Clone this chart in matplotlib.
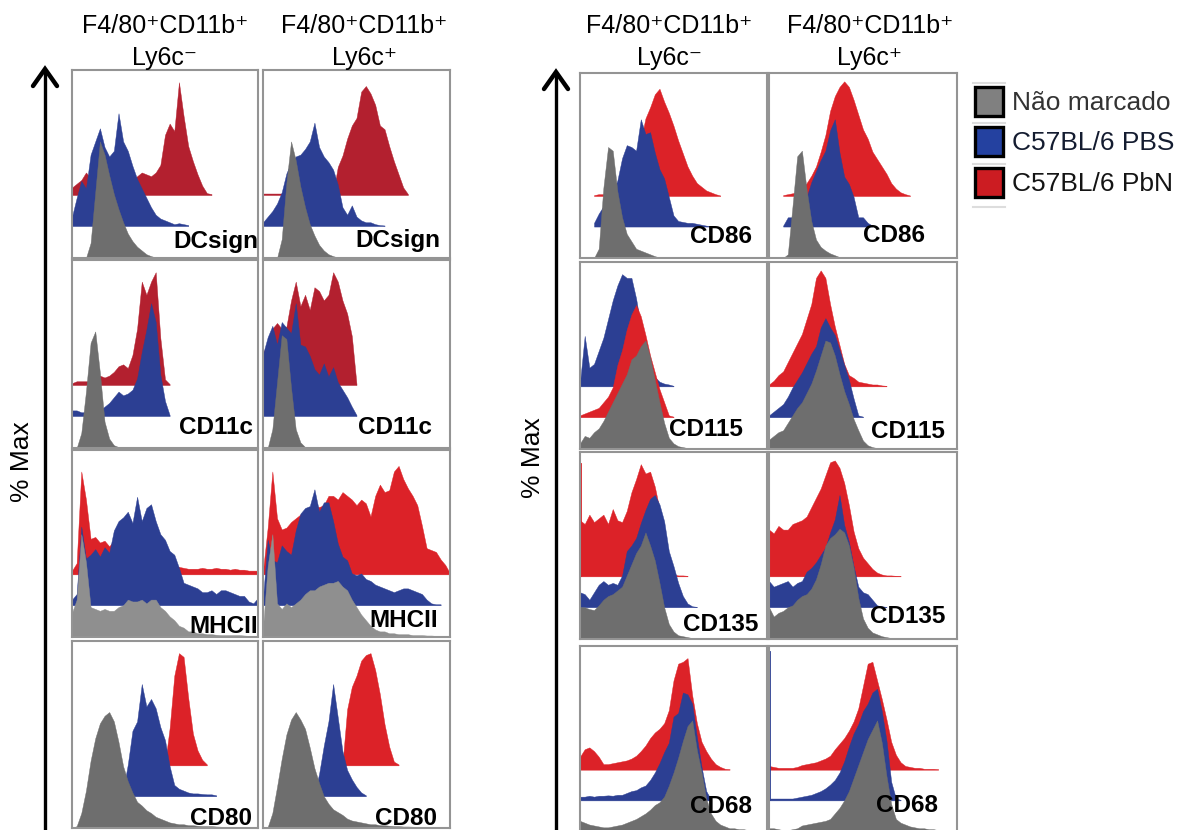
import numpy as np
import matplotlib
matplotlib.use("Agg")
import matplotlib.pyplot as plt
from matplotlib.patches import Rectangle

W, H = 1183, 830
FONT = ["Liberation Sans", "DejaVu Sans"]

# each histogram: (x of first value in % of panel width, heights in % of panel height)
# values are read every 2.5 % along x
dcsign_neg_gray = (7.5, [0, 8, 35, 62, 55, 44, 34, 26, 19, 13, 9, 6, 4, 2, 1, 0.3])
dcsign_neg_blue = (0, [5, 15, 24, 20, 38, 45, 52, 42, 37, 40, 60, 45, 40, 32, 25, 20, 15, 10, 6, 4, 3, 2, 1, 1.5, 1, 0.5])
dcsign_neg_red = (0, [4, 6, 8, 12, 9, 4, 3, 3, 3, 3, 4, 5, 6, 8, 10, 12, 11, 10, 12, 16, 32, 38, 34, 60, 42, 26, 18, 11, 5, 1, 0.5])
dcsign_pos_gray = (7.5, [0, 10, 40, 62, 52, 38, 27, 18, 12, 7, 4, 2, 1, 0.3])
dcsign_pos_blue = (0, [2, 5, 8, 12, 18, 28, 34, 37, 38, 41, 45, 55, 42, 37, 34, 30, 22, 10, 6, 11, 5, 3, 2, 2, 1, 0.5, 0.3])
dcsign_pos_red = (0, [0.8, 0.8, 0.8, 0.8, 0.8, 0.8, 0.8, 0.8, 0.8, 0.8, 0.8, 0.8, 0.8, 0.8, 0.8, 0.8,
                      15, 21, 30, 37, 41, 55, 58, 54, 48, 37, 35, 26, 18, 11, 4, 0.5])

cd11c_neg_gray = (2.5, [0, 8, 30, 56, 62, 40, 14, 5, 1.5, 0.5, 0])
cd11c_neg_blue = (0, [3, 3, 2, 2, 2, 2, 3, 5, 7, 10, 13, 11, 12, 14, 20, 34, 46, 60, 50, 22, 8, 0.5])
cd11c_neg_red = (0, [1, 2, 2, 2, 2, 3, 5, 4, 5, 7, 10, 11, 9, 16, 30, 55, 48, 55, 60, 25, 3, 0.5])
cd11c_pos_gray = (2.5, [0, 10, 35, 60, 58, 32, 10, 3, 0.5, 0])
cd11c_pos_blue = (0, [33, 42, 48, 38, 50, 47, 44, 60, 38, 37, 32, 25, 22, 28, 21, 26, 18, 14, 10, 5, 0.5])
cd11c_pos_red = (0, [17, 22, 30, 33, 30, 31, 45, 55, 42, 48, 40, 52, 50, 45, 48, 60, 55, 45, 38, 26, 0.5])

mhcii_neg_gray = (0, [13, 20, 55, 40, 16, 15, 14, 15, 14, 14, 16, 17, 20, 19, 19, 20, 18, 20, 20, 16, 14,
                      11, 9, 6, 5, 3, 3, 2, 2, 1.5, 1.5, 1.2, 1, 1, 1, 1, 1, 0.8, 0.6, 0.5, 0.5])
mhcii_neg_blue = (0, [3, 6, 42, 25, 27, 30, 26, 31, 28, 40, 45, 47, 50, 44, 58, 45, 52, 54, 45, 38, 35,
                      29, 27, 20, 12, 11, 10, 9, 7, 7, 8, 6, 8, 8, 7, 6, 5, 5, 2, 1, 4])
mhcii_neg_red = (0, [2, 6, 55, 40, 19, 20, 17, 18, 15, 18, 20, 22, 24, 25, 25, 22, 20, 18, 15, 12, 8,
                     6, 5, 4, 3.5, 3, 3, 3, 3.5, 3, 3, 3.5, 3, 3, 2.5, 3, 2.5, 2.5, 2, 2, 2])
mhcii_pos_gray = (0, [5, 38, 55, 18, 15, 18, 16, 18, 20, 23, 25, 25, 27, 28, 29, 29, 30, 27, 25, 20, 16,
                      12, 9, 6, 4, 3, 3, 2, 2, 1.5, 1.5, 1.5, 1, 1, 1, 0.8, 0.8, 0.6, 0.5, 0.5, 0.5])
mhcii_pos_blue = (0, [4, 35, 24, 23, 32, 29, 27, 40, 49, 52, 53, 62, 50, 55, 55, 45, 33, 26, 24, 17,
                      16, 17, 14, 13, 11, 10, 9, 8, 7, 8, 9, 9, 8, 7, 6, 3, 1, 0.5, 0.5])
mhcii_pos_red = (0, [2, 25, 55, 30, 24, 25, 28, 30, 32, 34, 36, 37, 36, 37, 42, 42, 40, 44, 42, 40, 37,
                     40, 38, 31, 42, 48, 44, 45, 55, 58, 51, 46, 42, 37, 26, 14, 13, 12, 8, 5, 0.5])

cd80_neg_gray = (0, [0, 1, 8, 20, 36, 48, 56, 60, 62, 57, 46, 33, 25, 19, 14, 12, 9.5, 8, 6, 5, 4,
                     3, 2.5, 2, 2, 1.5, 1.5, 1.2, 1, 1, 1, 0.8, 0.7, 0.6, 0.5, 0.5, 0.4, 0.4, 0.3, 0.3, 0.3])
cd80_neg_blue = (20, [0.5, 1, 2, 3, 17, 35, 40, 60, 48, 52, 47, 37, 30, 16, 6, 4, 3, 2, 1.5, 1.5, 1.2, 1, 1, 0.5])
cd80_neg_red = (50, [0.5, 20, 48, 60, 58, 36, 17, 8, 3, 0.5])
cd80_pos_gray = (0, [0, 0.5, 8, 22, 37, 50, 58, 62, 58, 53, 43, 32, 24, 17, 13, 10, 8.5, 7, 5, 4, 3.5,
                     3, 2.5, 2, 2, 1.5, 1.5, 1.2, 1, 1, 0.8, 0.8, 0.7, 0.6, 0.5, 0.5, 0.4, 0.4, 0.3, 0.3, 0.3])
cd80_pos_blue = (25, [0.5, 1, 12, 27, 40, 60, 42, 24, 14, 9, 5, 2, 0.5])
cd80_pos_red = (42.5, [0.5, 30, 42, 48, 56, 59, 60, 51, 38, 22, 10, 2, 0.5])

cd86_neg_gray = (7.5, [0, 5, 38, 60, 58, 36, 22, 13, 9, 5, 4, 3, 2, 1, 0.3])
cd86_neg_blue = (7.5, [2, 7, 11, 14, 18, 25, 37, 44, 43, 41, 58, 50, 51, 40, 31, 26, 16, 6, 3, 2.5, 2, 2, 1.5, 1, 0.5, 0.3])
cd86_neg_red = (7.5, [0.5, 1, 1, 1.5, 1.5, 2, 3, 4, 6, 9, 30, 42, 48, 55, 58, 51, 45, 38, 30, 23, 16, 11, 7, 5, 3, 2, 1, 0.3])
cd86_pos_gray = (7.5, [0, 2, 28, 55, 58, 37, 20, 10, 6, 4, 2.5, 1.5, 0.5, 0.2])
cd86_pos_blue = (7.5, [0.5, 5, 5, 6, 10, 16, 24, 30, 36, 41, 52, 58, 40, 27, 23, 16, 5, 5, 2, 0.5])
cd86_pos_red = (7.5, [0.5, 1, 1.5, 2, 4, 7, 11, 16, 24, 33, 46, 54, 59, 62, 59, 52, 44, 36, 31, 24, 20, 16, 12, 7, 4, 2, 1, 0.3])

cd115_neg_gray = (0, [3, 7, 6, 9, 11, 15, 20, 25, 30, 35, 40, 48, 50, 55, 58, 49, 37, 25, 14, 6, 3, 1.5, 1, 0.5, 0.2])
cd115_neg_red = (0, [1, 2, 3, 4, 5, 8, 11, 16, 28, 36, 47, 55, 60, 54, 44, 33, 24, 15, 8, 1, 0.3])
cd115_neg_blue = (0, [2, 27, 10, 12, 19, 26, 36, 46, 54, 60, 58, 58, 47, 32, 22, 13, 5, 2.5, 1.5, 1, 0.3])
cd115_pos_gray = (0, [5, 7, 9, 10, 14, 18, 22, 25, 30, 35, 42, 50, 58, 57, 50, 40, 31, 24, 16, 10, 4.5, 2, 1, 0.5, 0.2])
cd115_pos_blue = (0, [1, 3, 5, 7, 11, 16, 20, 24, 29, 34, 38, 48, 53, 48, 44, 36, 28, 20, 10, 1, 0.3])
cd115_pos_red = (0, [1, 3, 6, 8, 13, 18, 23, 28, 36, 44, 58, 62, 58, 44, 32, 22, 12, 6, 4.5, 2.5, 2, 1.5, 1, 1, 0.5, 0.3])

cd135_neg_gray = (0, [17, 17, 16, 15.5, 18, 21, 23, 24, 26, 28, 34, 40, 46, 50, 57, 50, 42, 30, 17, 8, 4, 2, 1.5, 1, 0.5, 0.2])
cd135_neg_blue = (0, [8, 7, 4, 8, 12, 14, 12, 13, 12, 17, 30, 33, 37, 45, 52, 58, 60, 55, 46, 30, 22, 13, 6, 2, 0.5, 0.2])
cd135_neg_red = (0, [30, 28, 33, 29, 31, 33, 28, 36, 30, 29, 35, 45, 52, 60, 55, 56, 48, 36, 24, 8, 1, 0.5, 0.5, 0.3])
cd135_pos_gray = (0, [17, 12, 14, 15, 17, 18, 21, 23, 24, 27, 32, 40, 50, 54, 56, 59, 57, 50, 38, 22, 11, 6, 3.5, 2.5, 1.5, 1, 0.5, 0.2])
cd135_pos_blue = (0, [14, 11, 12, 13, 14, 11, 13, 14, 19, 21, 24, 28, 32, 40, 47, 60, 44, 35, 22, 11, 8, 7, 4, 1, 0.5, 0.2])
cd135_pos_red = (0, [25, 23, 27, 25, 25, 28, 29, 30, 32, 37, 42, 47, 54, 61, 62, 58, 50, 38, 24, 15, 10, 7, 4, 2, 1, 0.5, 0.5, 0.3, 0.2])

cd68_neg_gray = (0, [6, 5, 4, 3.5, 3, 2.5, 2.5, 3, 3.5, 4, 5, 6, 7, 8.5, 10, 12, 14.5, 16, 19, 25, 32,
                     40, 49, 57, 60, 44, 32, 18, 10, 6, 4, 3, 2, 2, 1.5, 1.5, 1, 1, 1, 0.8, 0.8])
cd68_neg_blue = (0, [2, 2, 2.5, 2, 2.5, 2.5, 2.7, 2.5, 3, 3, 4, 5, 5.5, 7, 8, 11, 15, 20, 26, 31, 45, 47, 58, 57, 52, 34, 18, 5, 0.5])
cd68_neg_red = (0, [7, 11, 12, 10, 7, 3, 3, 3.5, 4, 4.5, 5, 6, 7.5, 10, 13, 17, 20, 22, 25, 32, 48, 57, 58, 60, 40,
                    25, 15, 10, 6, 3, 1.5, 0.5, 0.3])
cd68_pos_gray = (0, [2, 2, 1.5, 1, 1, 1.5, 2, 3.5, 4, 4.5, 5, 5.5, 6, 7, 10, 13, 17, 22, 29, 36, 43,
                     50, 55, 60, 48, 30, 15, 7, 5, 4, 3, 2.5, 2, 2, 1.5, 1.5, 1, 1, 1, 0.8, 0.5])
cd68_pos_blue = (0, [1, 1, 1, 1, 1, 1, 1.5, 2, 2.5, 3, 4, 5, 6.5, 8.5, 11, 15, 21, 29, 36, 41, 48, 52, 58, 60, 48, 32, 10, 1, 0.3])
cd68_pos_red = (0, [2, 1.5, 1, 1, 1, 1, 1.5, 2.5, 3, 3.5, 4, 5, 6, 7.5, 11, 14, 17, 21, 26, 33, 45, 57, 58, 48, 38,
                    27, 15, 8, 4, 2, 1.5, 1, 1, 0.5, 0.5, 0.5, 0.3])

# single-channel spikes at the left edge (height in % of panel)
cd135_neg_red_spike = 60
cd68_pos_blue_spike = 80

headers = ["F4/80\u207aCD11b\u207a\nLy6c\u207b", "F4/80\u207aCD11b\u207a\nLy6c\u207a"]
legend_labels = ["N\u00e3o marcado", "C57BL/6 PBS", "C57BL/6 PbN"]

GRAY, GRAY_L = "#6e6e6e", "#8f8f8f"
BLUE = "#2c3f93"
RED_D, RED = "#b3202f", "#dc2228"

# panel boxes in pixels: columns (left, right), rows (top, bottom)
left_cols = [(72, 258), (263, 450)]
left_rows = [(70, 258), (260, 448), (450, 637), (641, 828)]
right_cols = [(580, 767), (769, 957)]
right_rows = [(73, 258), (262, 449), (452, 639), (646, 832)]

# (marker, col, row, side, [upper, middle, lower] series, colours, label inset right/up px, spike)
panels = [
    ("DCsign", 0, 0, "L", [dcsign_neg_red, dcsign_neg_blue, dcsign_neg_gray], [RED_D, BLUE, GRAY], (0, 10), None),
    ("DCsign", 1, 0, "L", [dcsign_pos_red, dcsign_pos_blue, dcsign_pos_gray], [RED_D, BLUE, GRAY], (10, 11), None),
    ("CD11c", 0, 1, "L", [cd11c_neg_red, cd11c_neg_blue, cd11c_neg_gray], [RED_D, BLUE, GRAY], (5, 14), None),
    ("CD11c", 1, 1, "L", [cd11c_pos_red, cd11c_pos_blue, cd11c_pos_gray], [RED_D, BLUE, GRAY], (18, 14), None),
    ("MHCII", 0, 2, "L", [mhcii_neg_red, mhcii_neg_blue, mhcii_neg_gray], [RED, BLUE, GRAY_L], (0, 4), None),
    ("MHCII", 1, 2, "L", [mhcii_pos_red, mhcii_pos_blue, mhcii_pos_gray], [RED, BLUE, GRAY_L], (12, 10), None),
    ("CD80", 0, 3, "L", [cd80_neg_red, cd80_neg_blue, cd80_neg_gray], [RED, BLUE, GRAY], (6, 3), None),
    ("CD80", 1, 3, "L", [cd80_pos_red, cd80_pos_blue, cd80_pos_gray], [RED, BLUE, GRAY], (13, 3), None),
    ("CD86", 0, 0, "R", [cd86_neg_red, cd86_neg_blue, cd86_neg_gray], [RED, BLUE, GRAY], (15, 15), None),
    ("CD86", 1, 0, "R", [cd86_pos_red, cd86_pos_blue, cd86_pos_gray], [RED, BLUE, GRAY], (32, 16), None),
    ("CD115", 0, 1, "R", [cd115_neg_blue, cd115_neg_red, cd115_neg_gray], [BLUE, RED, GRAY], (24, 13), None),
    ("CD115", 1, 1, "R", [cd115_pos_red, cd115_pos_blue, cd115_pos_gray], [RED, BLUE, GRAY], (12, 11), None),
    ("CD135", 0, 2, "R", [cd135_neg_red, cd135_neg_blue, cd135_neg_gray], [RED, BLUE, GRAY], (9, 8), (0, cd135_neg_red_spike)),
    ("CD135", 1, 2, "R", [cd135_pos_red, cd135_pos_blue, cd135_pos_gray], [RED, BLUE, GRAY], (12, 16), None),
    ("CD68", 0, 3, "R", [cd68_neg_red, cd68_neg_blue, cd68_neg_gray], [RED, BLUE, GRAY], (15, 19), None),
    ("CD68", 1, 3, "R", [cd68_pos_red, cd68_pos_blue, cd68_pos_gray], [RED, BLUE, GRAY], (19, 20), (1, cd68_pos_blue_spike)),
]

BASES = [33.5, 17, 0]

fig = plt.figure(figsize=(W / 100, H / 100), dpi=100)
fig.patch.set_facecolor("white")

for label, c, r, side, series, colors, (inset, up), spike in panels:
    cols, rows = (left_cols, left_rows) if side == "L" else (right_cols, right_rows)
    x0, x1 = cols[c]
    y0, y1 = rows[r]
    ax = fig.add_axes([x0 / W, 1 - y1 / H, (x1 - x0) / W, (y1 - y0) / H])
    for (start, vals), base, col in zip(series, BASES, colors):
        x = start + 2.5 * np.arange(len(vals))
        ax.fill_between(x, base, base + np.array(vals, float), color=col, lw=0.3, ec=col)
    if spike is not None:
        k, h = spike
        ax.plot([0.5, 0.5], [BASES[k], BASES[k] + h], color=colors[k], lw=1.3)
    ax.set_xlim(0, 100)
    ax.set_ylim(0, 100)
    ax.set_xticks([])
    ax.set_yticks([])
    for sp in ax.spines.values():
        sp.set_color("#949494")
        sp.set_linewidth(1.5)
    ax.text(1 - inset / (x1 - x0), up / (y1 - y0), label, transform=ax.transAxes,
            ha="right", va="baseline", fontsize=17.5, fontweight="bold", family=FONT, zorder=10)

# column headers
for cx, txt in zip([165, 364, 669, 870], headers * 2):
    l1, l2 = txt.split("\n")
    fig.text(cx / W, 1 - 33 / H, l1, ha="center", va="baseline", fontsize=18, family=FONT)
    fig.text(cx / W, 1 - 65 / H, l2, ha="center", va="baseline", fontsize=18, family=FONT)

# overlay in pixel coordinates for arrows and legend
ov = fig.add_axes([0, 0, 1, 1])
ov.set_xlim(0, W)
ov.set_ylim(H, 0)
ov.axis("off")
ov.patch.set_alpha(0)

for ax_x, tip, tx, ty in [(45, 69, 22, 462), (556, 72, 533, 458)]:
    ov.plot([ax_x, ax_x], [H + 5, tip + 2], color="black", lw=2.4, solid_capstyle="butt")
    ov.plot([ax_x - 12, ax_x, ax_x + 12], [tip + 17, tip, tip + 17], color="black", lw=3.2,
            solid_joinstyle="miter", solid_capstyle="round")
    ov.text(tx, ty, "% Max", rotation=90, ha="center", va="center", fontsize=19, family=FONT)

# legend
for i, (lab, fc, tc) in enumerate(zip(legend_labels, ["#808080", "#2441a0", "#cc1c22"],
                                      ["#333333", "#141c30", "#141414"])):
    top = 87 + i * 40.5
    ov.plot([973, 1005], [top - 4, top - 4], color="#dddddd", lw=1.5)
    ov.add_patch(Rectangle((975, top), 28, 29, facecolor=fc, edgecolor="black", lw=2.4))
    ov.text(1012, top + 23, lab, ha="left", va="baseline", fontsize=19, color=tc, family=FONT)
ov.plot([973, 1005], [207, 207], color="#dddddd", lw=1.5)

fig.savefig("out.png", dpi=100)
